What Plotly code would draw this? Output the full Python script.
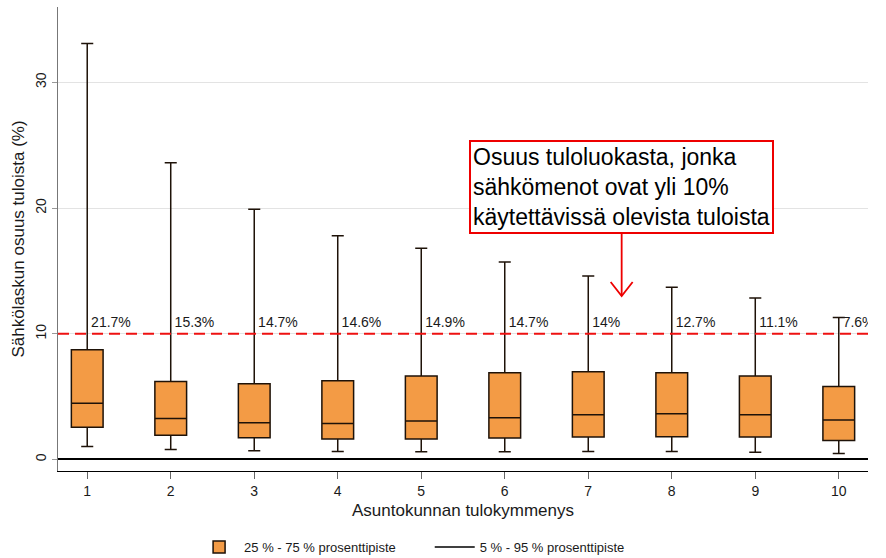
import plotly.graph_objects as go

deciles = [1, 2, 3, 4, 5, 6, 7, 8, 9, 10]
p5 = [1.03, 0.80, 0.69, 0.64, 0.61, 0.61, 0.64, 0.64, 0.58, 0.48]
p25 = [2.57, 1.93, 1.72, 1.62, 1.62, 1.70, 1.78, 1.80, 1.78, 1.51]
p50 = [4.48, 3.26, 2.92, 2.86, 3.05, 3.31, 3.55, 3.63, 3.55, 3.13]
p75 = [8.73, 6.20, 6.02, 6.26, 6.63, 6.90, 6.98, 6.90, 6.63, 5.81]
p95 = [33.1, 23.6, 19.9, 17.8, 16.8, 15.7, 14.6, 13.7, 12.85, 11.3]
share_over_10 = ["21.7%", "15.3%", "14.7%", "14.6%", "14.9%", "14.7%", "14%", "12.7%", "11.1%", "7.6%"]
tick_labels = [str(d) for d in deciles]
threshold = 10

FONT = "Arial, Liberation Sans, sans-serif"

fig = go.Figure()

fig.add_trace(go.Box(
    x=deciles, q1=p25, median=p50, q3=p75, lowerfence=p5, upperfence=p95,
    fillcolor="#F39B45", line=dict(color="#1e1208", width=1.5),
    width=0.38, whiskerwidth=0.38,
    name="25 % - 75 % prosenttipiste" + "\u00a0" * 8, showlegend=True, hoverinfo="skip",
))

fig.add_trace(go.Scatter(
    x=[None], y=[None], mode="lines", line=dict(color="black", width=1.5),
    name="5 % - 95 % prosenttipiste",
))

fig.add_trace(go.Scatter(
    x=deciles, y=[10.8] * len(deciles), mode="text", text=[" " + s for s in share_over_10],
    textposition="middle right", textfont=dict(family=FONT, size=14, color="#1a1a1a"),
    showlegend=False, hoverinfo="skip",
))

fig.add_shape(type="line", xref="paper", x0=0, x1=1, yref="y", y0=threshold, y1=threshold,
              line=dict(color="#ee1111", width=1.8, dash="11px,6px"), layer="above")

fig.add_annotation(
    x=7.4, y=21.68, xref="x", yref="y", showarrow=False,
    text="Osuus tuloluokasta, jonka<br>sähkömenot ovat yli 10%<br>käytettävissä olevista tuloista",
    align="left", xanchor="center", yanchor="middle",
    font=dict(family=FONT, size=23, color="black"),
    bordercolor="#ee0000", borderwidth=2, borderpad=2, bgcolor="white",
)
fig.add_annotation(
    x=7.4, y=13.0, xref="x", yref="y", ax=7.4, ay=18.2, axref="x", ayref="y",
    text="", showarrow=True, arrowhead=0, arrowwidth=1.8, arrowcolor="#ee0000",
)
fig.add_shape(type="path", xref="x", yref="y", xsizemode="pixel", ysizemode="pixel",
              xanchor=7.4, yanchor=13.0, path="M -11,14 L 0,0 L 11,14",
              line=dict(color="#ee0000", width=1.8))

fig.update_layout(
    width=886, height=558,
    margin=dict(l=58, r=18, t=7, b=87, autoexpand=False),
    plot_bgcolor="white", paper_bgcolor="white",
    font=dict(family=FONT, size=14, color="#1a1a1a"),
    showlegend=True,
    legend=dict(orientation="h", x=0.168, xanchor="left", y=-0.164, yanchor="middle",
                font=dict(family=FONT, size=13, color="#1a1a1a"), itemwidth=40,
                traceorder="normal"),
    xaxis=dict(range=[0.65, 10.35], tickmode="array", tickvals=deciles, ticktext=tick_labels,
               showgrid=False, zeroline=False, showline=True, linecolor="black", linewidth=1.2,
               ticks="outside", ticklen=7, tickcolor="#666666", tickfont=dict(size=14),
               automargin=False,
               title=dict(text="Asuntokunnan tulokymmenys", font=dict(size=17), standoff=6)),
    yaxis=dict(range=[-0.92, 36], tickvals=[0, 10, 20, 30], tickangle=-90,
               showgrid=True, gridcolor="#e3e3e3", gridwidth=1,
               zeroline=True, zerolinecolor="black", zerolinewidth=1.5,
               showline=True, linecolor="#777777", linewidth=1.2,
               ticks="outside", ticklen=5, tickcolor="#999999", tickfont=dict(size=14),
               automargin=False,
               title=dict(text="Sähkölaskun osuus tuloista (%)", font=dict(size=17), standoff=4)),
)

fig.write_html("out.html", config={"displayModeBar": False},
               post_script="document.body.style.margin='0';")
